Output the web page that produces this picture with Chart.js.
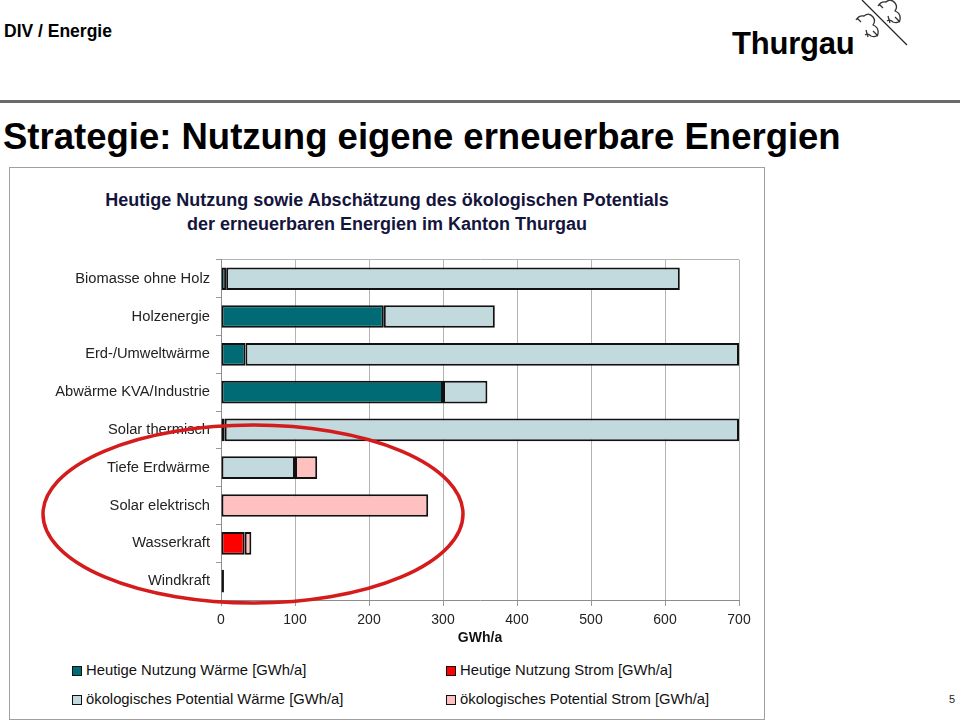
<!DOCTYPE html>
<html>
<head>
<meta charset="utf-8">
<script src="https://cdn.jsdelivr.net/npm/chart.js@4"></script>
<style>
  html,body{margin:0;padding:0;background:#fff;}
  body{width:960px;height:724px;position:relative;overflow:hidden;font-family:"Liberation Sans",Arial,sans-serif;}
  .abs{position:absolute;white-space:nowrap;}
  #hdr{left:4px;top:21px;font-size:17.5px;font-weight:bold;color:#000;}
  #logo{left:732px;top:26px;font-size:31px;font-weight:bold;color:#000;letter-spacing:-0.2px;}
  #rule{left:0;top:100px;width:960px;height:3px;background:#6a6a6a;}
  #title{left:3px;top:119px;font-size:36.5px;line-height:1;font-weight:bold;color:#000;}
  #box{left:9px;top:167px;width:756px;height:553px;border:1.5px solid #a0a0a0;box-sizing:border-box;}
  #ctitle{left:9px;top:188px;width:756px;text-align:center;font-size:18px;font-weight:bold;color:#14143c;line-height:24px;}
  #chartwrap{position:absolute;left:0;top:245px;width:780px;height:405px;}
  .leg{font-size:14.8px;color:#111;}
  .sw{position:absolute;width:10px;height:10px;border:1.5px solid #111;box-sizing:border-box;}
  #pg{left:949px;top:693px;font-size:11px;color:#222;}
  svg{position:absolute;left:0;top:0;pointer-events:none;}
</style>
</head>
<body>
<div class="abs" id="hdr">DIV / Energie</div>
<div class="abs" id="logo">Thurgau</div>
<div class="abs" id="rule"></div>
<div class="abs" id="title">Strategie: Nutzung eigene erneuerbare Energien</div>
<div class="abs" id="box"></div>
<div class="abs" id="ctitle">Heutige Nutzung sowie Abschätzung des ökologischen Potentials<br>der erneuerbaren Energien im Kanton Thurgau</div>
<div id="chartwrap"><canvas id="c" width="780" height="405"></canvas></div>
<div id="legend"></div>
<div class="abs" id="pg">5</div>
<svg width="960" height="724">
  <line x1="862" y1="0" x2="907" y2="45" stroke="#222" stroke-width="1.2"/>
  <g fill="none" stroke="#333" stroke-width="1.3" stroke-linejoin="round">
    <path d="M856 20 q3 -5 8 -4 q5 -4 9 1 q3 4 0 8 q6 2 5 9 q-2 4 -7 2 q-3 -3 -6 -1 M861 22 l-4 -4 M866 30 l2 7 M873 31 l5 5"/>
    <path d="M878 6 q3 -5 8 -4 q5 -4 9 1 q3 4 0 8 q6 2 5 9 q-2 4 -7 2 q-3 -3 -6 -1 M883 8 l-4 -4 M888 16 l2 7 M895 17 l5 5"/>
  </g>
  <ellipse cx="253" cy="514" rx="210" ry="89" fill="none" stroke="#d41c1c" stroke-width="3.5"/>
</svg>
<script>
const categories = ["Biomasse ohne Holz","Holzenergie","Erd-/Umweltwärme","Abwärme KVA/Industrie","Solar thermisch","Tiefe Erdwärme","Solar elektrisch","Wasserkraft","Windkraft"];
const heuteWaerme     = [7, 220, 33, 300, 5, 0, 0, 0, 0];
const potentialWaerme = [613, 150, 667, 60, 695, 100, 0, 0, 0];
const heuteStrom      = [0, 0, 0, 0, 0, 0, 0, 32, 0];
const potentialStrom  = [0, 0, 0, 0, 0, 30, 280, 9, 4];
const xTicks = [0, 100, 200, 300, 400, 500, 600, 700];
const seriesNames = ["Heutige Nutzung Wärme [GWh/a]","ökologisches Potential Wärme [GWh/a]","Heutige Nutzung Strom [GWh/a]","ökologisches Potential Strom [GWh/a]"];
const seriesColors = ["#006b75","#c2d9dd","#ff0000","#ffc0c0"];
const axisTitle = "GWh/a";

const FONT = '"Liberation Sans", Arial, sans-serif';
const values = [heuteWaerme, potentialWaerme, heuteStrom, potentialStrom];

new Chart(document.getElementById('c'), {
  type: 'bar',
  data: {
    labels: categories,
    datasets: values.map((v, i) => ({
      label: seriesNames[i],
      data: v,
      backgroundColor: seriesColors[i],
      borderColor: '#111',
      borderWidth: 2,
      borderSkipped: false,
      barPercentage: 0.6,
      categoryPercentage: 1.0
    }))
  },
  options: {
    indexAxis: 'y',
    responsive: false,
    animation: false,
    devicePixelRatio: 1,
    layout: { padding: { top: 0, right: 41, left: 0, bottom: 0 } },
    plugins: { legend: { display: false }, tooltip: { enabled: false } },
    scales: {
      x: {
        stacked: true,
        min: 0, max: 700,
        afterBuildTicks: s => { s.ticks = xTicks.map(v => ({ value: v })); },
        afterFit: s => { s.height = 50; },
        grid: { color: '#b4b4b4', lineWidth: 1, tickLength: 6, tickColor: '#999' },
        border: { color: '#8c8c8c', width: 1 },
        ticks: { font: { family: FONT, size: 14 }, color: '#222', padding: 6, maxRotation: 0 },
        title: { display: true, text: axisTitle, font: { family: FONT, size: 14, weight: 'bold' }, color: '#111', padding: { top: 0, bottom: 3 } }
      },
      y: {
        stacked: true,
        afterFit: s => { s.width = 221; },
        grid: {
          color: ctx => ctx.index === 0 ? '#b4b4b4' : 'rgba(0,0,0,0)',
          tickColor: '#999',
          tickLength: 5,
          lineWidth: 1
        },
        border: { color: '#8c8c8c', width: 1 },
        ticks: { font: { family: FONT, size: 14.7 }, color: '#222', padding: 6 }
      }
    }
  }
});

// HTML legend built from series names/colors
const legendPos = [[72, 664], [72, 693], [446, 664], [446, 693]];
const lg = document.getElementById('legend');
seriesNames.forEach((n, i) => {
  const sw = document.createElement('div');
  sw.className = 'sw';
  sw.style.left = legendPos[i][0] + 'px';
  sw.style.top = (legendPos[i][1] + 2) + 'px';
  sw.style.background = seriesColors[i];
  lg.appendChild(sw);
  const t = document.createElement('div');
  t.className = 'abs leg';
  t.style.left = (legendPos[i][0] + 14) + 'px';
  t.style.top = (legendPos[i][1] - 2) + 'px';
  t.textContent = n;
  lg.appendChild(t);
});
</script>
</body>
</html>
